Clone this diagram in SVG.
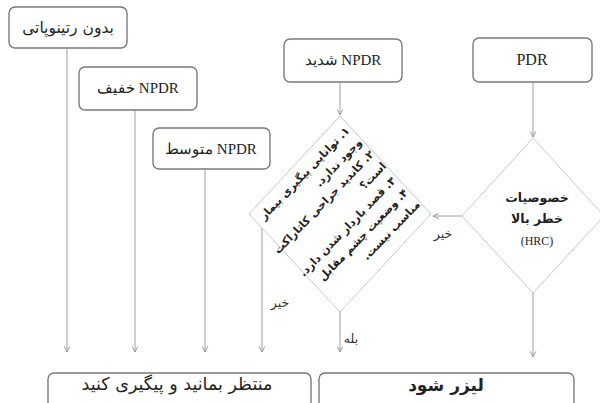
<svg xmlns="http://www.w3.org/2000/svg" width="600" height="403" viewBox="0 0 600 403">
<style>
.box{fill:#fff;stroke:#7a7a7a;stroke-width:1.4}
.dia{fill:#fff;stroke:#c8c8c8;stroke-width:1}
.ln{fill:none;stroke:#a0a0a0;stroke-width:1}
.t{font-family:'Liberation Serif','DejaVu Serif',serif;font-size:15px;fill:#222;text-anchor:middle}
.fa{font-family:'DejaVu Sans',sans-serif;fill:#222;text-anchor:middle}
.lbl{font-family:'DejaVu Sans',sans-serif;font-size:12.5px;fill:#333;text-anchor:middle}
.dt{font-family:'DejaVu Sans',sans-serif;font-size:11px;font-weight:bold;fill:#222}
</style>
<defs>
<marker id="ah" viewBox="0 0 10 10" refX="9" refY="5" markerWidth="7" markerHeight="7" orient="auto" markerUnits="userSpaceOnUse">
<path d="M1,1 L9,5 L1,9" fill="none" stroke="#909090" stroke-width="1.3"/>
</marker>
</defs>
<rect width="600" height="403" fill="#fff"/>
<g id="connectors">
<line class="ln" x1="67" y1="49" x2="67" y2="352" marker-end="url(#ah)"/>
<line class="ln" x1="135" y1="110" x2="135" y2="352" marker-end="url(#ah)"/>
<line class="ln" x1="205" y1="169" x2="205" y2="352" marker-end="url(#ah)"/>
<line class="ln" x1="262" y1="228" x2="262" y2="352" marker-end="url(#ah)"/>
<line class="ln" x1="340" y1="82" x2="340" y2="115" marker-end="url(#ah)"/>
<line class="ln" x1="340" y1="312" x2="340" y2="352" marker-end="url(#ah)"/>
<line class="ln" x1="533" y1="82" x2="533" y2="137" marker-end="url(#ah)"/>
<line class="ln" x1="533" y1="293" x2="533" y2="357" marker-end="url(#ah)"/>
<line class="ln" x1="462" y1="216" x2="433" y2="216" marker-end="url(#ah)"/>
<text class="lbl" x="280" y="307" direction="rtl">خیر</text>
<text class="lbl" x="351" y="343" direction="rtl">بله</text>
<text class="lbl" x="443" y="238" direction="rtl">خیر</text>
</g>
<g id="n-none">
<rect class="box" x="9" y="7" width="118" height="41" rx="6"/>
<text class="fa" x="68" y="33" direction="rtl" style="font-size:15.5px">بدون رتینوپاتی</text>
</g>
<g id="n-mild">
<rect class="box" x="79" y="67" width="118" height="43" rx="6"/>
<text class="t" x="138" y="93" direction="rtl">NPDR خفیف</text>
</g>
<g id="n-moderate">
<rect class="box" x="153" y="128" width="117" height="41" rx="6"/>
<text class="t" x="211" y="154" direction="rtl">NPDR متوسط</text>
</g>
<g id="n-severe">
<rect class="box" x="284" y="39" width="118" height="43" rx="6"/>
<text class="t" x="343" y="65" direction="rtl">NPDR شدید</text>
</g>
<g id="n-pdr">
<rect class="box" x="473" y="38" width="119" height="44" rx="6"/>
<text class="t" x="532" y="65" style="font-size:16px">PDR</text>
</g>
<g id="d-conditions">
<polygon class="dia" points="340,116 431,214 340,312 249,214"/>
<g transform="translate(340,116) rotate(-46)">
<text class="dt" direction="rtl" text-anchor="start">
<tspan x="-4" y="18">۱. توانایی پیگیری بیمار</tspan>
<tspan x="-4" y="35">وجود ندارد.</tspan>
<tspan x="-4" y="52">۲. کاندید جراحی کاتاراکت</tspan>
<tspan x="-4" y="69">است؟</tspan>
<tspan x="-8" y="86">۳. قصد باردار شدن دارد.</tspan>
<tspan x="-8" y="103">۴. وضعیت چشم مقابل</tspan>
<tspan x="-8" y="120">مناسب نیست.</tspan>
</text>
</g>
</g>
<g id="d-hrc">
<polygon class="dia" points="533,138 604,216 533,293 462,216"/>
<text class="fa" x="537" y="202" direction="rtl" style="font-size:12.5px;font-weight:bold">خصوصیات</text>
<text class="fa" x="537" y="223" direction="rtl" style="font-size:12.5px;font-weight:bold">خطر بالا</text>
<text class="t" x="537" y="245" style="font-size:12px">(HRC)</text>
</g>
<g id="n-wait">
<rect class="box" x="48" y="373" width="263" height="45" rx="6"/>
<text class="fa" x="177" y="390" direction="rtl" style="font-size:17.5px">منتظر بمانید و پیگیری کنید</text>
</g>
<g id="n-laser">
<rect class="box" x="319" y="373" width="255" height="45" rx="6"/>
<text class="fa" x="446" y="391" direction="rtl" style="font-size:17px;font-weight:bold">لیزر شود</text>
</g>
</svg>
